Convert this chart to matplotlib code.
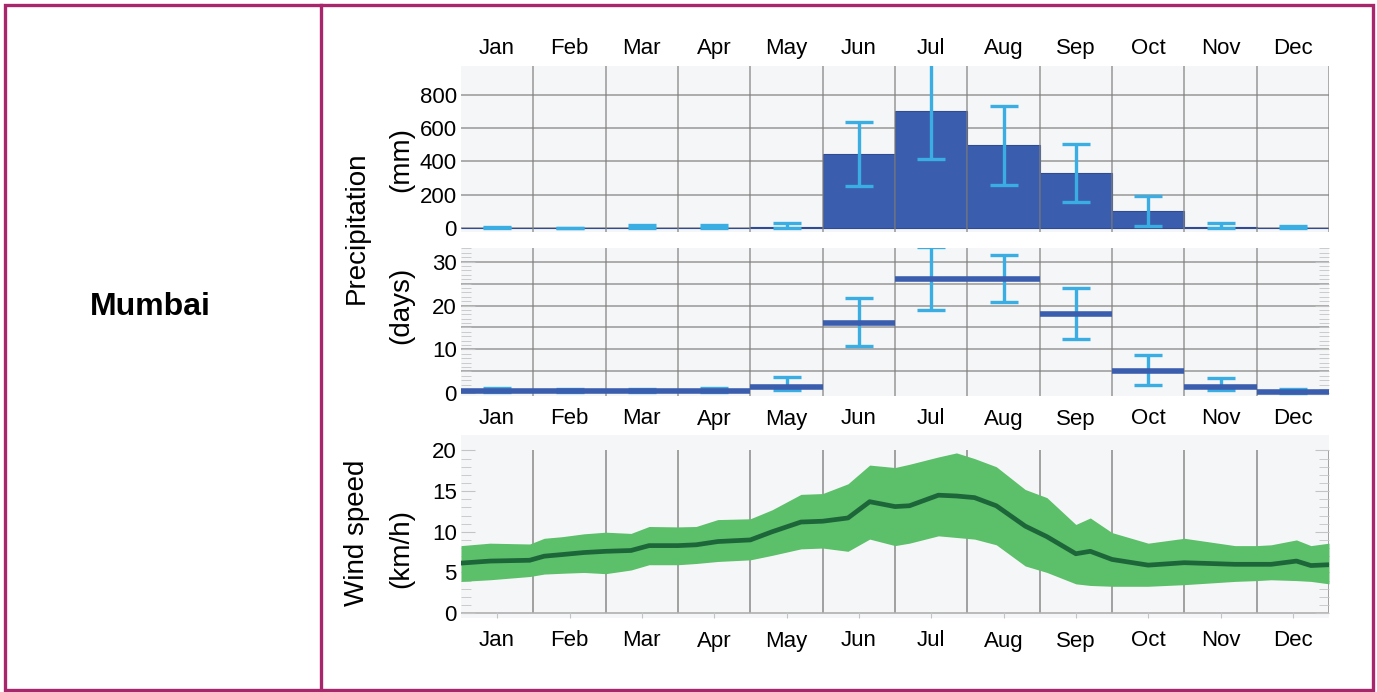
import numpy as np
import matplotlib.pyplot as plt
from matplotlib.patches import Rectangle
from matplotlib.lines import Line2D

plt.rcParams['font.family'] = ['Liberation Sans', 'DejaVu Sans']

months = ['Jan', 'Feb', 'Mar', 'Apr', 'May', 'Jun',
          'Jul', 'Aug', 'Sep', 'Oct', 'Nov', 'Dec']

# monthly precipitation amount (mm) with its spread
rain_mm = [2, 1, 3, 2, 8, 443, 702, 498, 330, 100, 8, 2]
rain_mm_lo = [0, 0, 0, 0, 0, 250, 412, 260, 157, 15, 0, 0]
rain_mm_hi = [4, 1, 18, 17, 31, 635, 990, 735, 504, 190, 33, 12]

# days with precipitation
rain_days = [0.6, 0.5, 0.5, 0.5, 1.5, 16.1, 26.0, 26.0, 18.1, 5.2, 1.5, 0.3]
rain_days_lo = [0.3, 0.2, 0.2, 0.2, 0.8, 10.7, 19.0, 20.8, 12.4, 1.8, 0.8, 0.1]
rain_days_hi = [1.2, 1.0, 1.1, 1.3, 3.8, 21.7, 33.3, 31.6, 23.9, 8.8, 3.4, 1.0]

# wind speed over the year (x in months since 1 Jan)
wind_t = [0, 0.4, 0.95, 1.15, 1.4, 1.7, 2.0, 2.35, 2.6, 3.0, 3.25, 3.55, 4.0,
          4.3, 4.7, 5.0, 5.35, 5.65, 6.0, 6.2, 6.6, 6.85, 7.1, 7.4, 7.8, 8.1,
          8.5, 8.7, 9.0, 9.5, 10.0, 10.7, 11.0, 11.2, 11.55, 11.75, 12.0]
wind_med = [6.15, 6.4, 6.5, 7.0, 7.2, 7.45, 7.6, 7.7, 8.3, 8.3, 8.4, 8.8, 9.0,
            10.0, 11.2, 11.3, 11.7, 13.7, 13.1, 13.2, 14.5, 14.4, 14.2, 13.2,
            10.7, 9.4, 7.3, 7.6, 6.6, 5.9, 6.2, 6.0, 6.0, 6.0, 6.4, 5.85, 5.95]
wind_hi = [8.3, 8.6, 8.5, 9.2, 9.4, 9.75, 9.95, 9.8, 10.65, 10.6, 10.65, 11.5,
           11.6, 12.7, 14.6, 14.7, 15.9, 18.2, 17.9, 18.3, 19.2, 19.7, 19.0,
           18.0, 15.2, 14.2, 10.9, 11.7, 9.9, 8.6, 9.2, 8.3, 8.3, 8.4, 9.0,
           8.3, 8.6]
wind_lo = [3.9, 4.1, 4.5, 4.8, 4.9, 5.0, 4.85, 5.3, 5.95, 5.95, 6.1, 6.35,
           6.55, 7.1, 7.9, 8.0, 7.6, 9.1, 8.3, 8.6, 9.5, 9.3, 9.1, 8.4, 5.8,
           5.0, 3.6, 3.4, 3.3, 3.3, 3.5, 3.9, 4.0, 4.1, 4.0, 3.9, 3.6]

W, H = 1377, 692
BG = '#f5f6f7'
GRID = '#808080'
BAR = '#3a5dae'
ERR = '#3aaee3'
FRAME = '#a8276c'

fig = plt.figure(figsize=(W / 100, H / 100), dpi=100)


def box(x0, y0, x1, y1):
    return [x0 / W, 1 - y1 / H, (x1 - x0) / W, (y1 - y0) / H]


def put(x, y, s, **kw):
    fig.text(x / W, 1 - y / H, s, **kw)


mid = np.arange(12) + 0.5
edges = np.arange(13)

# --- precipitation amount ---
ax1 = fig.add_axes(box(461, 66, 1329, 232))
ax1.set_facecolor(BG)
ax1.bar(mid, rain_mm, width=1.0, color=BAR, edgecolor='#2e4c96', lw=0.8, zorder=2)
ax1.errorbar(mid, rain_mm,
             yerr=[np.subtract(rain_mm, rain_mm_lo), np.subtract(rain_mm_hi, rain_mm)],
             fmt='none', ecolor=ERR, elinewidth=2.4, capsize=10, capthick=2.4, zorder=4)
for v in [0, 200, 400, 600, 800]:
    ax1.axhline(v, color=GRID, lw=1.1, alpha=0.8, zorder=1)
for e in edges[1:]:
    ax1.axvline(e, color=GRID, lw=1.1, alpha=0.8, zorder=3)
ax1.set_xlim(0, 12)
ax1.set_ylim(-24, 974)
ax1.set_yticks([0, 200, 400, 600, 800])
ax1.set_xticks(mid)
ax1.set_xticklabels(months)
ax1.xaxis.tick_top()
ax1.tick_params(axis='x', length=0, pad=5, labelsize=16)
ax1.tick_params(axis='y', length=0, pad=3, labelsize=16)

# --- days with precipitation ---
ax2 = fig.add_axes(box(461, 248, 1329, 396))
ax2.set_facecolor(BG)
for v in [5, 10, 15, 20, 25, 30]:
    ax2.axhline(v, color=GRID, lw=1.1, alpha=0.8, zorder=1)
for e in edges[1:-1]:
    ax2.axvline(e, color=GRID, lw=1.1, alpha=0.8, zorder=1)
ax2.errorbar(mid, rain_days,
             yerr=[np.subtract(rain_days, rain_days_lo), np.subtract(rain_days_hi, rain_days)],
             fmt='none', ecolor=ERR, elinewidth=2.4, capsize=10, capthick=2.4, zorder=3)
ax2.hlines(rain_days, edges[:-1], edges[1:], color=BAR, lw=4, zorder=4)
ax2.set_xlim(0, 12)
ax2.set_ylim(-0.6, 33.1)
ax2.set_yticks([0, 10, 20, 30])
ax2.set_yticks(np.arange(0, 34), minor=True)
ax2.set_xticks(mid)
ax2.set_xticklabels(months)
ax2.tick_params(axis='x', length=0, pad=9, labelsize=16)
ax2.tick_params(axis='y', which='both', direction='in', left=True, right=True,
                color='#c4c4c4', pad=3, labelsize=16)
ax2.tick_params(axis='y', which='major', length=10)
ax2.tick_params(axis='y', which='minor', length=7)

# --- wind speed ---
ax3 = fig.add_axes(box(461, 435, 1329, 618))
ax3.set_facecolor(BG)
ax3.vlines(edges[1:], 0, 20, color='#9a9a9a', lw=1.3, zorder=1)
ax3.fill_between(wind_t, wind_lo, wind_hi, color='#5cbf6a', lw=0, zorder=2)
ax3.plot(wind_t, wind_med, color='#1d6639', lw=3.4, zorder=3)
ax3.axhline(0, color='#b0b0b0', lw=1.2, zorder=1)
ax3.set_xlim(0, 12)
ax3.set_ylim(-0.6, 21.9)
ax3.set_yticks([0, 5, 10, 15, 20])
ax3.set_yticks(np.arange(0, 21), minor=True)
ax3.set_xticks(mid)
ax3.set_xticklabels(months)
ax3.tick_params(axis='x', length=4, direction='in', color='#c4c4c4', pad=9, labelsize=16)
ax3.tick_params(axis='y', which='both', direction='in', left=True, right=True,
                color='#c4c4c4', pad=3, labelsize=16)
ax3.tick_params(axis='y', which='major', length=10)
ax3.tick_params(axis='y', which='minor', length=7)

for ax in (ax1, ax2, ax3):
    for s in ax.spines.values():
        s.set_visible(False)

# axis titles
put(357, 228, 'Precipitation', rotation=90, ha='center', va='center', fontsize=20)
put(401, 160, '(mm)', rotation=90, ha='center', va='center', fontsize=20)
put(401, 305, '(days)', rotation=90, ha='center', va='center', fontsize=20)
put(357, 533, 'Wind speed', rotation=90, ha='center', va='center', fontsize=20)
put(401, 548, '(km/h)', rotation=90, ha='center', va='center', fontsize=20)
put(150, 307, 'Mumbai', ha='center', va='center', fontsize=23, fontweight='bold')

# table frame
fig.patches.append(Rectangle((5 / W, 1 - 690 / H), 1368 / W, 685 / H, transform=fig.transFigure,
                             fill=False, edgecolor=FRAME, lw=2.4))
fig.lines.append(Line2D([321 / W, 321 / W], [1 - 690 / H, 1 - 5 / H], transform=fig.transFigure,
                        color=FRAME, lw=2.4))

fig.savefig('out.png', dpi=100, facecolor='white')
